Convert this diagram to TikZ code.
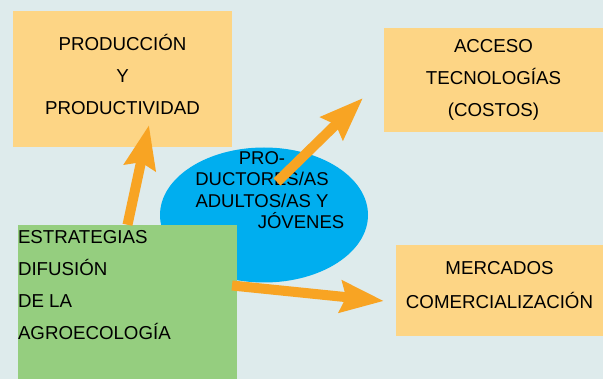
\documentclass[tikz,border=0pt]{standalone}
\usepackage{fontspec}
\setmainfont{Liberation Sans}
\usepackage{tikz}
\usetikzlibrary{arrows.meta,shapes.geometric}

\definecolor{fondo}{RGB}{222,235,236}
\definecolor{amarillo}{RGB}{253,213,133}
\definecolor{verde}{RGB}{149,206,127}
\definecolor{azul}{RGB}{0,174,239}
\definecolor{naranja}{RGB}{248,164,35}

\tikzset{
  caja/.style={fill=amarillo,inner sep=0pt,align=center,font=\fontsize{18.7}{32}\selectfont},
  flecha/.style={draw=naranja,line width=10pt,-{Stealth[length=43pt,width=31pt,inset=5pt]}}
}

\begin{document}
\begin{tikzpicture}[x=1pt,y=-1pt]
            \fill[fondo] (0,0) rectangle (603,379);
            \node[caja,minimum width=219pt,minimum height=136pt,text depth=9pt] (prod) at (122.5,79) {PRODUCCIÓN\\Y\\PRODUCTIVIDAD};
            \node[caja,minimum width=219pt,minimum height=104pt] (acc) at (493.5,80) {ACCESO\\TECNOLOGÍAS\\(COSTOS)};
            \node[caja,minimum width=207pt,minimum height=91pt,text depth=11pt,font=\fontsize{18.7}{34}\selectfont] (merc) at (499.5,290.5) {MERCADOS\\COMERCIALIZACIÓN};
            \node[ellipse,fill=azul,inner sep=0pt,minimum width=208pt,minimum height=135pt] (pjov) at (264,215) {};
            \node[align=center,inner sep=0pt,font=\fontsize{18.5}{21.3}\selectfont] (pjovtxt) at ([xshift=-2pt,yshift=25pt]pjov.center) {PRO-\\DUCTORES/AS\\ADULTOS/AS Y\\\hspace*{78pt}JÓVENES};
            \node[fill=verde,inner sep=0pt,font=\fontsize{18.7}{32}\selectfont] (estr) at (127.5,302) {\parbox[c][154pt][t]{219pt}{\rule{0pt}{18.5pt}ESTRATEGIAS\\DIFUSIÓN\\DE LA\\AGROECOLOGÍA}};
            % puntas y colas de las flechas
            \coordinate (p1) at (149,125);
            \coordinate (c2) at (277,182);
            \coordinate (p2) at (363,98);
            \coordinate (c3) at (232,285.5);
            \coordinate (p3) at (384,301);
            \draw[flecha] (estr.north) -- (p1);
            \draw[flecha] (c2) -- (p2);
            \draw[flecha] (c3) -- (p3);
\end{tikzpicture}
\end{document}
